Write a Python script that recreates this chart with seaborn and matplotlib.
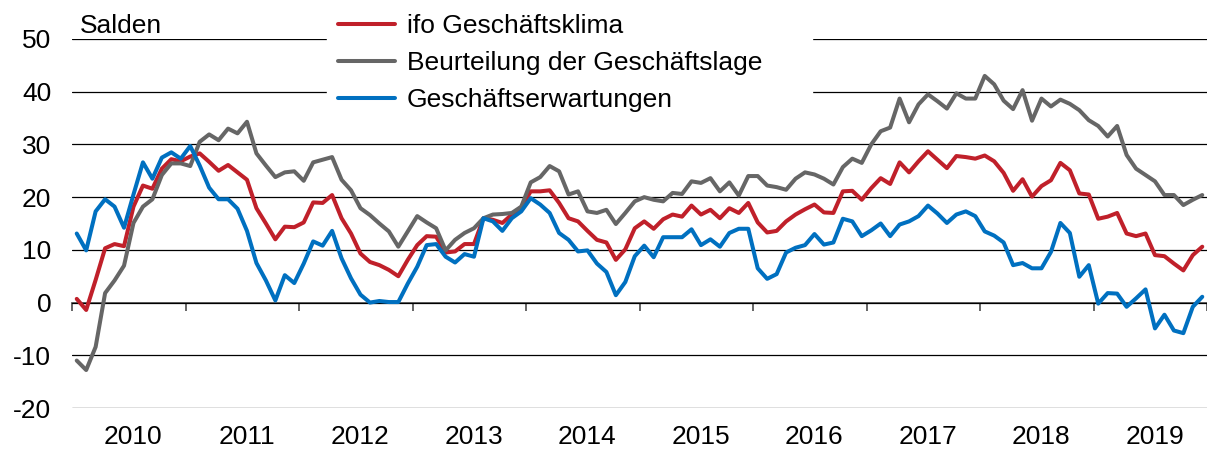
import numpy as np
import pandas as pd
import matplotlib
matplotlib.use("Agg")
import matplotlib.pyplot as plt
from matplotlib.transforms import ScaledTranslation
import seaborn as sns

# ───────────── data: monthly balances, Jan 2010 – Dec 2019 ─────────────
start_year = 2010
n_years = 10

klima = [
    0.7, -1.4, 4.3, 10.3, 11.1, 10.7, 18.2, 22.2, 21.6, 25.4, 27.2, 26.8,
    27.7, 28.3, 26.7, 25.0, 26.1, 24.7, 23.3, 17.9, 15.0, 12.0, 14.4, 14.3,
    15.2, 19.0, 18.9, 20.4, 16.0, 13.1, 9.3, 7.7, 7.1, 6.2, 5.0, 8.1,
    10.9, 12.6, 12.5, 9.5, 9.7, 11.1, 11.1, 16.0, 15.7, 15.1, 16.7, 18.1,
    21.1, 21.1, 21.3, 18.9, 16.0, 15.4, 13.6, 11.9, 11.4, 8.1, 10.1, 14.1,
    15.4, 14.0, 15.8, 16.7, 16.3, 18.4, 16.7, 17.6, 16.0, 17.9, 17.0, 18.9,
    15.2, 13.3, 13.6, 15.4, 16.7, 17.7, 18.6, 17.1, 17.0, 21.1, 21.2, 19.5,
    21.7, 23.6, 22.5, 26.6, 24.7, 26.8, 28.7, 27.1, 25.5, 27.8, 27.6, 27.3,
    27.9, 26.8, 24.6, 21.2, 23.4, 20.1, 22.1, 23.2, 26.5, 25.1, 20.7, 20.5,
    15.9, 16.3, 17.0, 13.1, 12.6, 13.1, 9.0, 8.8, 7.4, 6.1, 9.0, 10.6,
]
lage = [
    -11.0, -12.8, -8.4, 1.8, 4.2, 7.0, 15.1, 18.2, 19.6, 24.2, 26.4, 26.4,
    25.9, 30.5, 31.9, 30.8, 33.0, 32.1, 34.3, 28.3, 26.0, 23.8, 24.7, 24.9,
    23.1, 26.6, 27.1, 27.6, 23.3, 21.3, 17.9, 16.6, 15.0, 13.5, 10.6, 13.5,
    16.4, 15.2, 14.1, 9.9, 11.9, 13.2, 14.1, 16.0, 16.7, 16.8, 17.0, 18.2,
    22.8, 23.8, 25.9, 24.9, 20.5, 21.1, 17.3, 17.0, 17.6, 14.9, 17.0, 19.2,
    20.0, 19.5, 19.2, 20.8, 20.6, 23.0, 22.7, 23.6, 21.1, 22.8, 20.3, 24.0,
    24.0, 22.2, 21.9, 21.4, 23.5, 24.7, 24.3, 23.5, 22.4, 25.7, 27.3, 26.5,
    30.0, 32.5, 33.2, 38.7, 34.2, 37.6, 39.5, 38.2, 36.8, 39.7, 38.7, 38.7,
    43.0, 41.4, 38.3, 36.7, 40.3, 34.5, 38.7, 37.2, 38.5, 37.7, 36.5, 34.6,
    33.5, 31.5, 33.5, 28.0, 25.4, 24.2, 23.0, 20.4, 20.4, 18.5, 19.5, 20.4,
]
erwartungen = [
    13.1, 9.9, 17.3, 19.6, 18.2, 14.2, 20.5, 26.6, 23.5, 27.5, 28.5, 27.3,
    29.7, 26.0, 21.8, 19.6, 19.6, 17.8, 13.6, 7.5, 4.2, 0.4, 5.2, 3.7,
    7.4, 11.6, 10.8, 13.6, 8.4, 4.6, 1.5, 0.0, 0.3, 0.1, 0.1, 3.6,
    6.8, 10.9, 11.1, 8.7, 7.6, 9.2, 8.7, 16.0, 15.4, 13.6, 16.0, 17.3,
    19.8, 18.6, 17.0, 13.2, 11.9, 9.7, 9.9, 7.4, 5.8, 1.4, 3.9, 8.8,
    10.8, 8.6, 12.4, 12.4, 12.4, 13.9, 10.9, 12.0, 10.6, 13.2, 14.0, 14.0,
    6.5, 4.5, 5.4, 9.5, 10.4, 10.9, 13.0, 11.0, 11.4, 15.9, 15.4, 12.6,
    13.7, 15.0, 12.6, 14.8, 15.4, 16.4, 18.4, 16.9, 15.1, 16.7, 17.3, 16.4,
    13.5, 12.7, 11.4, 7.1, 7.5, 6.5, 6.5, 9.6, 15.1, 13.2, 4.9, 7.1,
    -0.2, 1.8, 1.7, -0.8, 0.8, 2.5, -4.9, -2.3, -5.3, -5.8, -0.8, 1.1,
]

series_labels = ["ifo Geschäftsklima", "Beurteilung der Geschäftslage",
                 "Geschäftserwartungen"]
series_colors = ["#C0202A", "#666666", "#0070C0"]
y_ticks = [-20, -10, 0, 10, 20, 30, 40, 50]
year_labels = [str(start_year + k) for k in range(n_years)]

# ─────────────────────────── plotting ───────────────────────────
sns.set_style("white")
plt.rcParams["font.family"] = ["Liberation Sans", "DejaVu Sans"]
plt.rcParams["font.size"] = 19
plt.rcParams["axes.unicode_minus"] = False
plt.rcParams["text.color"] = "black"
plt.rcParams["xtick.labelcolor"] = "black"
plt.rcParams["ytick.labelcolor"] = "black"

# month i plotted in the middle of its month
t = start_year + (np.arange(len(klima)) + 0.5) / 12

fig = plt.figure(figsize=(12.07, 4.5), dpi=100)
ax = fig.add_axes([72 / 1207, 42 / 450, 1135 / 1207, 369 / 450])

for vals, lab, col in zip([klima, lage, erwartungen], series_labels, series_colors):
    sns.lineplot(x=t, y=vals, ax=ax, color=col, lw=2.9, label=lab,
                 solid_joinstyle="round", solid_capstyle="round", zorder=3)

ax.set_xlim(start_year, start_year + n_years)
ax.set_ylim(y_ticks[0], y_ticks[-1])
ax.set_yticks(y_ticks)
ax.yaxis.grid(True, color="black", lw=0.9)
ax.set_axisbelow(True)
for s in ax.spines.values():
    s.set_visible(False)
ax.tick_params(axis="y", length=0, pad=15, labelcolor="black")

# year labels centred between the year boundaries, at the bottom
ax.set_xticks([start_year + k for k in range(n_years + 1)], [""] * (n_years + 1))
ax.set_xticks([start_year + k + 0.5 for k in range(n_years)], year_labels, minor=True)
ax.tick_params(axis="x", which="both", length=0, pad=12, labelcolor="black")
shift = ScaledTranslation(4.5 / 100, 0, fig.dpi_scale_trans)
for lbl in ax.get_xticklabels(minor=True):
    lbl.set_transform(lbl.get_transform() + shift)

# zero line with year-boundary tick marks
zero_frac = (0 - y_ticks[0]) / (y_ticks[-1] - y_ticks[0])
sec = ax.secondary_xaxis(zero_frac)
sec.set_xticks([start_year + k for k in range(n_years + 1)], [""] * (n_years + 1))
sec.tick_params(length=6, width=1.3, color="#595959", direction="out")
sec.spines["bottom"].set_color("#595959")
sec.spines["bottom"].set_linewidth(1.3)
for side in ("top", "left", "right"):
    sec.spines[side].set_visible(False)

ax.text(0.007, 1.003, "Salden", transform=ax.transAxes, va="bottom", ha="left",
        color="black")

leg = ax.legend(loc="upper left",
                bbox_to_anchor=(327 / 1207, 1 - 3 / 450, 485 / 1207, 0.0),
                bbox_transform=fig.transFigure, mode="expand",
                frameon=True, fancybox=False, framealpha=1, edgecolor="white",
                facecolor="white", handlelength=2.16, handletextpad=0.45,
                labelspacing=0.5, borderpad=0.42, borderaxespad=0.0,
                labelcolor="black")
leg.set_zorder(5)

fig.savefig("out.png", dpi=100)
